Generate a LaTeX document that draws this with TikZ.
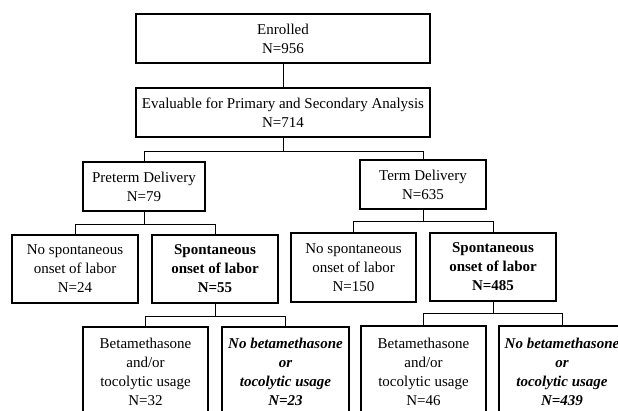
\documentclass[tikz,border=0pt]{standalone}
\usepackage{fontspec}
\setmainfont{Liberation Serif}
\begin{document}
\begin{tikzpicture}[x=1pt,y=-1pt,
  box/.style={draw=black,line width=1.1pt,align=center,inner sep=0pt,
    font=\fontsize{15}{19}\selectfont},
  link/.style={draw=black,line width=1pt}]
\useasboundingbox (0,0) rectangle (618,411);
\clip (0,0) rectangle (618,411);
% level 1-2
\node[box,minimum width=294pt,minimum height=49pt] (enr) at (283,38.5) {Enrolled\\N=956};
\node[box,minimum width=294pt,minimum height=49pt] (eva) at (283,112.5) {Evaluable for Primary and Secondary Analysis\\N=714};
% level 3
\node[box,minimum width=122pt,minimum height=49pt] (pre) at (144,186.5) {Preterm Delivery\\N=79};
\node[box,minimum width=126pt,minimum height=49pt] (term) at (423,184.5) {Term Delivery\\N=635};
% level 4
\node[box,minimum width=126pt,minimum height=68pt] (ns1) at (75,269) {No spontaneous\\onset of labor\\N=24};
\node[box,minimum width=126pt,minimum height=68pt,font=\fontsize{15}{19}\selectfont\bfseries] (sp1) at (215,269) {Spontaneous\\onset of labor\\N=55};
\node[box,minimum width=125pt,minimum height=69pt] (ns2) at (353.5,267.5) {No spontaneous\\onset of labor\\N=150};
\node[box,minimum width=126pt,minimum height=68pt,font=\fontsize{15}{19}\selectfont\bfseries] (sp2) at (493,267) {Spontaneous\\onset of labor\\N=485};
% level 5
\node[box,minimum width=125pt,minimum height=90pt] (b1) at (145.5,372) {Betamethasone\\and/or\\tocolytic usage\\N=32};
\node[box,minimum width=127pt,minimum height=90pt,font=\fontsize{15}{19}\selectfont\bfseries\itshape] (nb1) at (285.5,372) {No betamethasone\\or\\tocolytic usage\\N=23};
\node[box,minimum width=125pt,minimum height=91pt] (b2) at (423.5,371.5) {Betamethasone\\and/or\\tocolytic usage\\N=46};
\node[box,minimum width=126pt,minimum height=91pt,font=\fontsize{15}{19}\selectfont\bfseries\itshape] (nb2) at (562,371.5) {No betamethasone\\or\\tocolytic usage\\N=439};
% junctions
\coordinate (j1) at ([yshift=-14pt]eva.south);
\coordinate (j2) at ([yshift=-13pt]pre.south);
\coordinate (j3) at ([yshift=-12pt]term.south);
\coordinate (j4) at ([yshift=-13pt]sp1.south);
\coordinate (j5) at ([yshift=-12pt]sp2.south);
% connectors
\draw[link] (enr.south) -- (eva.north);
\draw[link] (eva.south) -- (j1);
\draw[link] (j1) -| (pre.north);
\draw[link] (j1) -| (term.north);
\draw[link] (pre.south) -- (j2);
\draw[link] (j2) -| (ns1.north);
\draw[link] (j2) -| (sp1.north);
\draw[link] (term.south) -- (j3);
\draw[link] (j3) -| (ns2.north);
\draw[link] (j3) -| (sp2.north);
\draw[link] (sp1.south) -- (j4);
\draw[link] (j4) -| (b1.north);
\draw[link] (j4) -| (nb1.north);
\draw[link] (sp2.south) -- (j5);
\draw[link] (j5) -| (b2.north);
\draw[link] (j5) -| (nb2.north);
\end{tikzpicture}
\end{document}
